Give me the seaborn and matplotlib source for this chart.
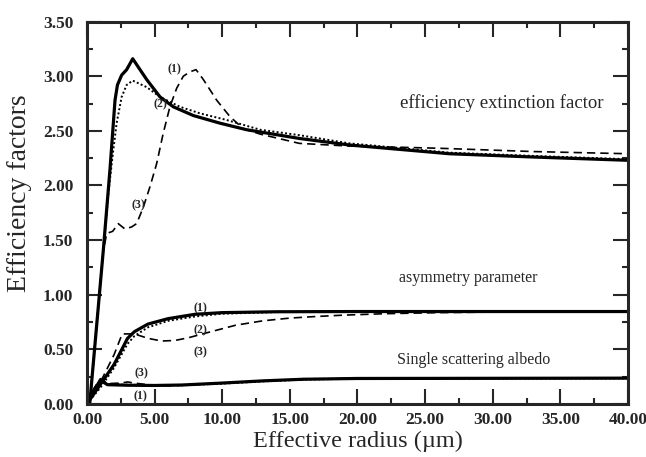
"""Efficiency factors vs effective radius."""
import matplotlib
matplotlib.use('Agg')
import matplotlib.pyplot as plt
from matplotlib.ticker import MultipleLocator, FormatStrFormatter
import seaborn as sns
import pandas as pd

# extinction efficiency, curves (1) solid, (2) dotted, (3) dashed
ext1_r = [0.2, 0.7, 1.2, 1.7, 2.07, 2.25, 2.56, 2.93, 3.38, 3.92, 4.41, 5.4, 6.38, 7.86,
          9.83, 11.8, 15.7, 19.4, 26.8, 33.0, 40.0]
ext1_q = [0.0, 0.7, 1.4, 2.15, 2.78, 2.92, 3.01, 3.06, 3.16, 3.06, 2.97, 2.81, 2.72, 2.64,
          2.57, 2.51, 2.43, 2.37, 2.29, 2.26, 2.23]
ext2_r = [0.2, 0.7, 1.2, 1.6, 1.94, 2.19, 2.56, 2.93, 3.38, 4.41, 5.4, 6.87, 8.35, 10.3,
          12.8, 15.7, 19.4, 26.8, 33.0, 40.0]
ext2_q = [0.0, 0.7, 1.4, 1.95, 2.32, 2.57, 2.81, 2.92, 2.96, 2.90, 2.81, 2.72, 2.66, 2.60,
          2.51, 2.46, 2.385, 2.30, 2.27, 2.24]
ext3_r = [0.2, 0.7, 1.2, 1.46, 1.9, 2.31, 2.81, 3.3, 3.67, 4.16, 4.66, 5.15, 5.64, 6.13,
          6.63, 7.12, 7.61, 8.06, 8.6, 9.59, 10.57, 11.55, 12.8, 15.7, 19.4, 23.0, 26.1,
          33.0, 40.0]
ext3_q = [0.0, 0.7, 1.4, 1.56, 1.58, 1.65, 1.60, 1.62, 1.65, 1.80, 1.99, 2.20, 2.48, 2.72,
          2.89, 3.00, 3.04, 3.06, 2.97, 2.78, 2.63, 2.52, 2.47, 2.385, 2.36, 2.35, 2.34,
          2.31, 2.29]

# asymmetry parameter
asy1_r = [0.0, 1.0, 2.0, 3.0, 3.5, 4.5, 6.0, 8.0, 10.0, 14.0, 20.0, 40.0]
asy1_g = [0.0, 0.18, 0.36, 0.60, 0.66, 0.73, 0.78, 0.82, 0.835, 0.843, 0.845, 0.845]
asy2_r = [0.0, 1.0, 2.0, 3.0, 3.5, 4.5, 6.0, 8.0, 10.0, 14.0, 20.0, 40.0]
asy2_g = [0.0, 0.15, 0.33, 0.55, 0.62, 0.70, 0.76, 0.80, 0.825, 0.84, 0.843, 0.843]
asy3_r = [0.0, 1.0, 2.0, 2.6, 3.5, 4.5, 5.5, 6.5, 7.5, 9.0, 11.0, 13.0, 15.0, 17.0, 19.0,
          22.0, 26.0, 30.0, 40.0]
asy3_g = [0.0, 0.20, 0.45, 0.64, 0.64, 0.60, 0.575, 0.58, 0.605, 0.655, 0.72, 0.76, 0.785,
          0.80, 0.812, 0.825, 0.835, 0.84, 0.843]

# single scattering albedo
alb1_r = [0.0, 0.5, 1.0, 1.5, 3.0, 5.0, 7.0, 10.0, 13.0, 16.0, 20.0, 40.0]
alb1_w = [0.0, 0.12, 0.22, 0.175, 0.17, 0.168, 0.172, 0.19, 0.21, 0.225, 0.232, 0.235]
alb2_r = [0.0, 0.5, 1.0, 1.5, 3.0, 5.0, 7.0, 10.0, 13.0, 16.0, 20.0, 40.0]
alb2_w = [0.0, 0.10, 0.20, 0.18, 0.175, 0.17, 0.17, 0.185, 0.205, 0.222, 0.23, 0.233]
alb3_r = [0.0, 0.5, 1.0, 1.5, 2.5, 3.0, 3.5, 4.5, 6.0, 8.0, 10.0, 13.0, 16.0, 20.0, 40.0]
alb3_w = [0.0, 0.14, 0.23, 0.185, 0.19, 0.20, 0.19, 0.175, 0.165, 0.175, 0.19, 0.21, 0.225,
          0.232, 0.235]

sns.set_style("ticks")
plt.rcParams['font.family'] = ['Liberation Serif', 'DejaVu Serif']

fig = plt.figure(figsize=(6.46, 4.57), dpi=100)
ax = fig.add_axes([0.1347, 0.1164, 0.9721 - 0.1347, 0.9527 - 0.1164])

styles = {
    '1': dict(color='black', lw=2.3, ls='-'),
    '2': dict(color='black', lw=1.4, ls=(0, (1, 1.2))),
    '3': dict(color='black', lw=1.2, ls=(0, (5, 3))),
}
curves = [
    (ext1_r, ext1_q, '1'), (ext2_r, ext2_q, '2'), (ext3_r, ext3_q, '3'),
    (asy1_r, asy1_g, '1'), (asy2_r, asy2_g, '2'), (asy3_r, asy3_g, '3'),
    (alb1_r, alb1_w, '1'), (alb2_r, alb2_w, '2'), (alb3_r, alb3_w, '3'),
]
for r, v, k in curves:
    df = pd.DataFrame({'r': r, 'v': v})
    sns.lineplot(data=df, x='r', y='v', ax=ax, sort=False, estimator=None, **styles[k])

# curve labels
lab_kw = dict(fontsize=8.5, fontweight='bold', ha='center', va='center')
for x, y, s in [(6.5, 3.06, '(1)'), (5.4, 2.74, '(2)'), (3.8, 1.82, '(3)'),
                (8.35, 0.875, '(1)'), (8.35, 0.675, '(2)'), (8.35, 0.47, '(3)'),
                (4.04, 0.28, '(3)'), (3.92, 0.065, '(1)')]:
    ax.text(x, y, s, **lab_kw)

ax.text(30.7, 2.75, 'efficiency extinction factor', fontsize=13.5, ha='center', va='center')
ax.text(28.2, 1.15, 'asymmetry parameter', fontsize=11.5, ha='center', va='center')
ax.text(28.55, 0.40, 'Single scattering albedo', fontsize=11.5, ha='center', va='center')

ax.set_xlim(0, 40)
ax.set_ylim(0, 3.5)
ax.xaxis.set_major_locator(MultipleLocator(5))
ax.xaxis.set_minor_locator(MultipleLocator(2.5))
ax.yaxis.set_major_locator(MultipleLocator(0.5))
ax.yaxis.set_minor_locator(MultipleLocator(0.25))
ax.xaxis.set_major_formatter(FormatStrFormatter('%.2f'))
ax.yaxis.set_major_formatter(FormatStrFormatter('%.2f'))
ax.tick_params(which='both', direction='in', top=True, right=True, width=1.5,
               labelsize=12.5)
ax.tick_params(axis='x', which='major', pad=6)
ax.tick_params(axis='y', which='major', pad=10)
ax.tick_params(which='major', length=11)
ax.tick_params(which='minor', length=4)
for lbl in ax.get_xticklabels() + ax.get_yticklabels():
    lbl.set_fontweight('bold')
for sp in ax.spines.values():
    sp.set_linewidth(2.2)

ax.set_xlabel('Effective radius (\u00b5m)', fontsize=17.5, labelpad=2)
ax.set_ylabel('Efficiency factors', fontsize=20)
ax.yaxis.set_label_coords(-0.102, 0.55)

fig.savefig('out.png', dpi=100)
plt.close(fig)
